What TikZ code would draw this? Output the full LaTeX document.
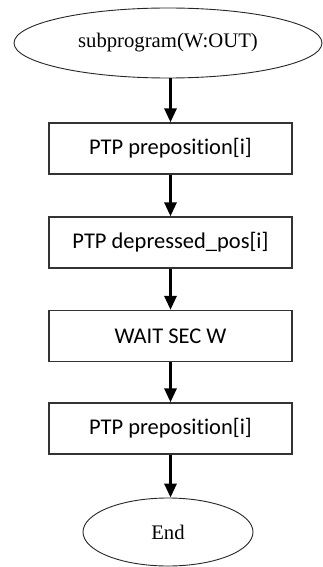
\documentclass[tikz,border=0pt]{standalone}
\usepackage{fontspec}
\setmainfont{Liberation Serif}
\newfontfamily\boxfont[Ligatures=NoCommon]{Carlito}
\usetikzlibrary{shapes.geometric,arrows.meta}
\begin{document}
\begin{tikzpicture}[x=1pt,y=-1pt,
  oval/.style={draw=black!85,line width=0.9pt,ellipse,inner sep=0pt,font=\fontsize{20.7}{24}\selectfont},
  stepbox/.style={draw=black!80,line width=1.3pt,rectangle,minimum width=243pt,minimum height=51pt,inner sep=0pt,font=\boxfont\fontsize{22.5}{26}\selectfont},
  flow/.style={line width=3pt,-{Triangle[length=14pt,width=12pt]}}]
\useasboundingbox (0,0) rectangle (322,567);
\node[oval,minimum width=308pt,minimum height=70pt] (start) at (168,43) {subprogram(W:OUT)};
\node[stepbox] (b1) at (170.5,148.5) {PTP preposition[i]};
\node[stepbox] (b2) at (170.5,242.5) {PTP depressed\_pos[i]};
\node[stepbox] (b3) at (170.5,336) {WAIT SEC W};
\node[stepbox] (b4) at (170.5,428.5) {PTP preposition[i]};
\node[oval,minimum width=170pt,minimum height=68pt] (end) at (168,532) {End};
\draw[flow] (start.south -| b1.north) -- (b1.north);
\draw[flow] (b1) -- (b2);
\draw[flow] (b2) -- (b3);
\draw[flow] (b3) -- (b4);
\draw[flow] (b4.south) -- (b4.south |- end.north);
\end{tikzpicture}
\end{document}
